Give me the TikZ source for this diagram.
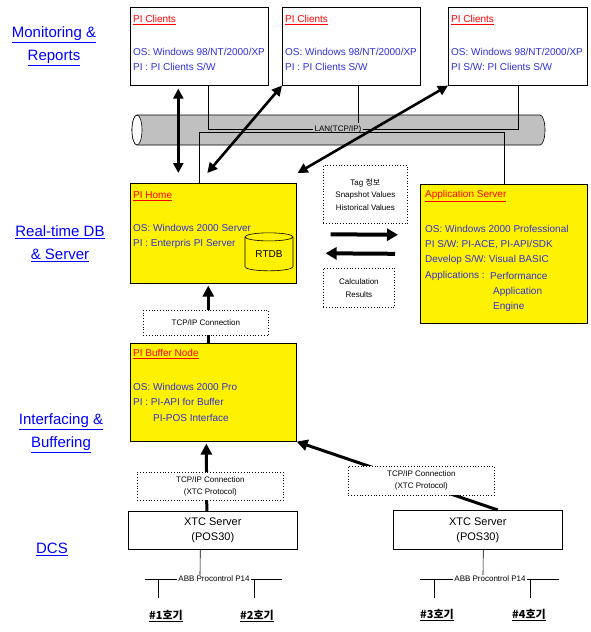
\documentclass[tikz,border=0pt]{standalone}
\usepackage{fontspec}
\setmainfont{Liberation Sans}
\newfontfamily\kr{Noto Sans CJK KR}
\usetikzlibrary{arrows.meta,positioning,shapes.geometric}
\definecolor{pipegray}{RGB}{192,192,192}
\definecolor{infoblue}{RGB}{48,48,220}
\newcommand{\boxfont}{\fontsize{10}{11}\selectfont}
\newcommand{\smallfont}{\fontsize{8}{12.5}\selectfont}
\newcommand{\layerfont}{\fontsize{15}{23}\selectfont}

\begin{document}
\begin{tikzpicture}[x=1pt,y=-1pt,
    every node/.style={inner sep=0pt},
    box/.style={draw, line width=0.6pt, fill=white, anchor=north west},
    ybox/.style={box, fill=yellow},
    dotbox/.style={draw, dotted, line width=0.8pt, fill=white, anchor=north west, align=center, font=\smallfont},
    title/.style={anchor=west, text=red, font=\boxfont},
    info/.style={anchor=west, text=infoblue, font=\boxfont},
    layer/.style={align=center, text=blue, font=\layerfont},
    unit/.style={font=\kr\bfseries\fontsize{11}{13}\selectfont},
    wire/.style={line width=0.6pt},
    bigarrow/.style={line width=3pt, -{Triangle[length=11pt,width=11pt]}},
    flatarrow/.style={line width=4pt, -{Triangle[length=11pt,width=12pt]}},
    dblarrow/.style={line width=2.6pt, {Triangle[length=10pt,width=10pt]}-{Triangle[length=10pt,width=10pt]}}]
\useasboundingbox (0,0) rectangle (590,632);

% layer names
\node[layer] (lmon) at (54,46) {\underline{Monitoring \&}\\\underline{Reports}};
\node[layer] (ldb) at (60,244) {\underline{Real-time DB}\\\underline{\& Server}};
\node[layer] (lif) at (61,433) {\underline{Interfacing \&}\\\underline{Buffering}};
\node[layer] (ldcs) at (52,549) {\underline{DCS}};

% LAN pipe
\filldraw[fill=pipegray, line width=0.6pt] (137,115) -- (540,115)
    arc[start angle=-90, end angle=90, x radius=5, y radius=15] -- (137,145)
    arc[start angle=90, end angle=270, x radius=5, y radius=15] -- cycle;
\filldraw[fill=white, line width=0.6pt] (137,130) ellipse[x radius=5, y radius=15];

% clients
\node[box, minimum width=138pt, minimum height=78pt] (c1) at (130,7) {};
\node[box, minimum width=138pt, minimum height=78pt] (c2) at (282,7) {};
\node[box, minimum width=139pt, minimum height=78pt] (c3) at (448,7) {};
\node[title] (c1t) at (133,20) {\underline{PI Clients}};
\node[info] (c1a) at (133,52) {OS: Windows 98/NT/2000/XP};
\node[info] (c1b) at (133,67) {PI : PI Clients S/W};
\node[title] (c2t) at (285,20) {\underline{PI Clients}};
\node[info] (c2a) at (285,52) {OS: Windows 98/NT/2000/XP};
\node[info] (c2b) at (285,67) {PI : PI Clients S/W};
\node[title] (c3t) at (451,20) {\underline{PI Clients}};
\node[info] (c3a) at (451,52) {OS: Windows 98/NT/2000/XP};
\node[info] (c3b) at (451,67) {PI S/W: PI Clients S/W};

% servers
\node[ybox, minimum width=166pt, minimum height=100pt] (home) at (130,183) {};
\node[title] (homet) at (133,196) {\underline{PI Home}};
\node[info] (homea) at (133,228) {OS: Windows 2000 Server};
\node[info] (homeb) at (133,244) {PI : Enterpris PI Server};
\node[cylinder, draw, line width=0.6pt, fill=yellow, shape border rotate=90, aspect=0.3,
      minimum height=38pt, minimum width=48pt, font=\boxfont] (rtdb) at (269,254) {RTDB};

\node[ybox, minimum width=167pt, minimum height=139pt] (app) at (420,184) {};
\node[title] (appt) at (425,196) {\underline{Application Server}};
\node[info] (appa) at (425,229) {OS: Windows 2000 Professional};
\node[info] (appb) at (425,245) {PI S/W: PI-ACE, PI-API/SDK};
\node[info] (appc) at (425,260) {Develop S/W: Visual BASIC};
\node[info] (appd) at (425,276) {Applications :};
\node[info] (appe) at (490,276) {Performance};
\node[info] (appf) at (493,292) {Application};
\node[info] (appg) at (493,307) {Engine};

\node[ybox, minimum width=166pt, minimum height=98pt] (buf) at (130,343) {};
\node[title] (buft) at (133,354) {\underline{PI Buffer Node}};
\node[info] (bufa) at (133,387) {OS: Windows 2000 Pro};
\node[info] (bufb) at (133,402) {PI : PI-API for Buffer};
\node[info] (bufc) at (153,418) {PI-POS Interface};

% DCS
\node[box, minimum width=169pt, minimum height=38pt, align=center, font=\fontsize{11}{15}\selectfont]
    (x1) at (128,511) {XTC Server\\(POS30)};
\node[box, minimum width=169pt, minimum height=39pt, align=center, font=\fontsize{11}{15}\selectfont]
    (x2) at (393,510) {XTC Server\\(POS30)};

% LAN wiring
\node[fill=pipegray, font=\smallfont, inner sep=1pt] (lan) at (338,129) {LAN(TCP/IP)};
\draw[wire] ([xshift=9pt]c1.south) |- (lan.west);
\draw[wire] (lan.east) -| (c3.south);
\draw[wire] ([xshift=7pt]c2.south) -- ++(0,37);
\draw[wire] ([xshift=-14pt]home.north) -- ++(0,-51) -| (app.north);

% data flow
\draw[dblarrow] ([xshift=-21pt,yshift=-3pt]c1.south) -- ([xshift=-35pt,yshift=10pt]home.north);
\draw[dblarrow] (c2.south west) -- ([xshift=-6pt,yshift=10pt]home.north);
\draw[dblarrow] (c3.south west) -- ([xshift=1pt,yshift=10pt]home.north east);
\draw[flatarrow] ([xshift=34pt,yshift=-1pt]home.east) -- ([xshift=-22pt,yshift=19pt]app.west);
\draw[flatarrow] ([xshift=-25pt]app.west) -- ([xshift=29pt,yshift=-20pt]home.east);
\draw[bigarrow] ([xshift=-5pt]buf.north) -- ([xshift=-5pt,yshift=-2pt]home.south);
\draw[bigarrow] ([xshift=-6pt]x1.north) -- ([xshift=-7pt,yshift=-2pt]buf.south);
\draw[bigarrow] ([xshift=20pt]x2.north) -- (buf.south east);

% notes
\node[dotbox, minimum width=84pt, minimum height=58pt] (tag) at (323,165)
    {Tag {\kr 정보}\\Snapshot Values\\Historical Values};
\node[dotbox, minimum width=71pt, minimum height=39pt] (calc) at (323,268) {Calculation\\Results};
\node[dotbox, minimum width=125pt, minimum height=25pt] (tcp1) at (143,310) {TCP/IP Connection};
\node[dotbox, minimum width=146pt, minimum height=28pt, font=\fontsize{8}{12}\selectfont] (tcp2) at (137,472)
    {TCP/IP Connection\\(XTC Protocol)};
\node[dotbox, minimum width=146pt, minimum height=29pt, font=\fontsize{8}{12}\selectfont] (tcp3) at (348,466)
    {TCP/IP Connection\\(XTC Protocol)};

% Procontrol bus
\node[fill=white, font=\smallfont, inner sep=1pt] (bus1) at (214,579) {ABB Procontrol P14};
\draw[wire] ([xshift=-12.5pt]x1.south) -- ([xshift=-14pt]bus1.north);
\draw[wire] (bus1.west) -- ++(-32,0);
\draw[wire] (bus1.east) -- ++(31,0);
\draw[wire] ([xshift=-18.5pt]bus1.west) -- ++(0,19);
\draw[wire] ([xshift=3.5pt]bus1.east) -- ++(0,19);
\node[unit] (u1) at (166,616) {\underline{\#1호기}};
\node[unit] (u2) at (257,616) {\underline{\#2호기}};

\node[fill=white, font=\smallfont, inner sep=1pt] (bus2) at (490,579) {ABB Procontrol P14};
\draw[wire] ([xshift=5.5pt]x2.south) -- ([xshift=-7pt]bus2.north);
\draw[wire] (bus2.west) -- ++(-33,0);
\draw[wire] (bus2.east) -- ++(32,0);
\draw[wire] ([xshift=-19pt]bus2.west) -- ++(0,19);
\draw[wire] ([xshift=4pt]bus2.east) -- ++(0,19);
\node[unit] (u3) at (437,615) {\underline{\#3호기}};
\node[unit] (u4) at (529,615) {\underline{\#4호기}};
\end{tikzpicture}
\end{document}
